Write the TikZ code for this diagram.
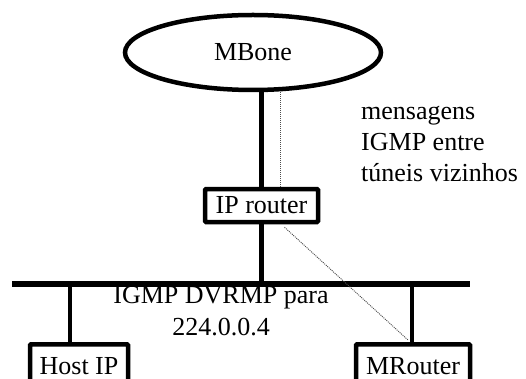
\documentclass[tikz,border=0pt]{standalone}
\usepackage{fontspec}
\setmainfont{Liberation Serif}
\usetikzlibrary{shapes.geometric,calc}
\begin{document}
\begin{tikzpicture}[x=1pt,y=1pt,
  every node/.style={font=\fontsize{26}{31}\selectfont},
  netbox/.style={draw, line width=4.5pt, rounded corners=1pt, inner sep=0pt},
  hostbox/.style={netbox, anchor=north, text height=30pt, text depth=20pt},
  txt/.style={inner sep=0pt},
  link/.style={line width=4.5pt},
  buslink/.style={line width=5.5pt},
  msgpath/.style={draw=black!70, line width=0.9pt, dash pattern=on 1pt off 1pt}]
\useasboundingbox (0,0) rectangle (526,-379);
\clip (0,0) rectangle (526,-379);
% nodes
\node[ellipse, draw, line width=4.5pt, minimum width=256pt, minimum height=75pt, inner sep=0pt] (mbone) at (253,-52.5) {MBone};
\node[netbox, minimum width=113pt, minimum height=33pt] (iprouter) at (261.5,-205.5) {IP router};
\node[hostbox, minimum width=98pt] (hostip) at (79,-342) {Host IP};
\node[hostbox, minimum width=114pt] (mrouter) at (413,-342) {MRouter};
\node[txt, anchor=base west] (msgA) at (361,-120) {mensagens};
\node[txt, anchor=base west] (msgB) at (361,-151) {IGMP entre};
\node[txt, anchor=base west] (msgC) at (361,-182) {túneis vizinhos};
\node[txt, anchor=base] (dvA) at (221,-303) {IGMP DVRMP para};
\node[txt, anchor=base] (dvB) at (221,-335) {224.0.0.4};
% bus
\coordinate (busL) at (12,-284);
\coordinate (busR) at (470,-284);
\coordinate (hostTap) at (70,-284);
\coordinate (mrTap) at (412,-284);
\draw[buslink] (busL) -- (busR);
% connectors
\draw[link] (iprouter.north) -- (iprouter.north |- mbone.south);
\draw[link] (iprouter.south) -- (iprouter.south |- busL);
\draw[link] (hostTap) -- (hostTap |- hostip.north);
\draw[link] (mrTap) -- (mrTap |- mrouter.north);
% tunnel messages
\coordinate (tunTop) at ($(iprouter.north)+(18.5,0)$);
\draw[msgpath] (tunTop) -- (tunTop |- mbone.south);
\draw[msgpath] ($(iprouter.south)+(23,-3)$) -- ($(mrouter.north)+(-5,2)$);
\end{tikzpicture}
\end{document}
